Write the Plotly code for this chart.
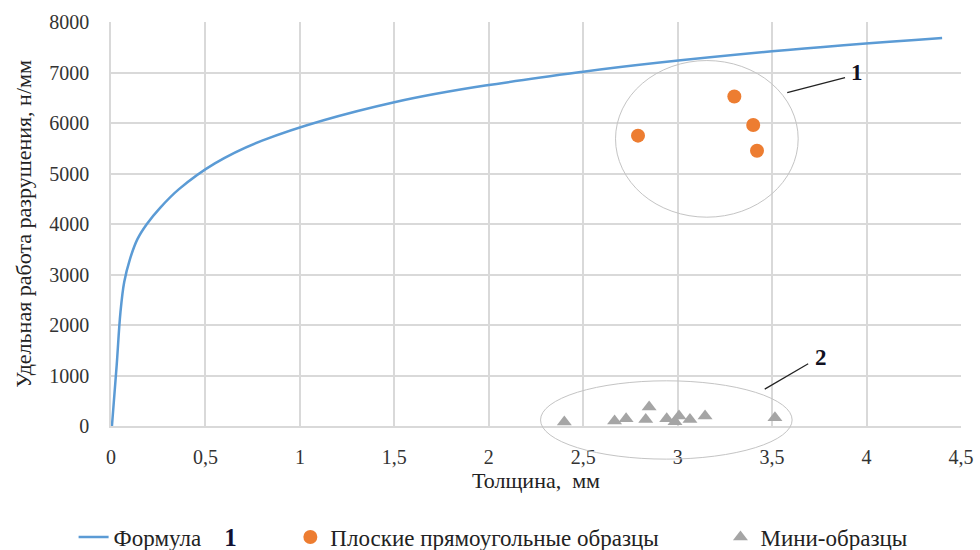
import plotly.graph_objects as go

# ---- data -------------------------------------------------------------
# calculated curve (Формула)
formula_x = [0.005, 0.03, 0.05, 0.07, 0.1, 0.14, 0.19, 0.26, 0.36, 0.55, 0.8, 1.5, 2.5, 3.5, 4.4]
formula_y = [0, 1200, 2250, 2850, 3300, 3700, 4000, 4320, 4690, 5200, 5650, 6410, 7015, 7420, 7685]

# flat rectangular specimens
flat_x = [2.79, 3.30, 3.40, 3.42]
flat_y = [5750, 6525, 5960, 5450]

# mini specimens
mini_x = [2.40, 2.666, 2.727, 2.849, 2.831, 2.942, 3.007, 2.986, 3.065, 3.145, 3.515]
mini_y = [80, 100, 145, 375, 130, 145, 200, 85, 130, 200, 165]

x_ticks = [0, 0.5, 1, 1.5, 2, 2.5, 3, 3.5, 4, 4.5]
x_ticktext = ["0", "0,5", "1", "1,5", "2", "2,5", "3", "3,5", "4", "4,5"]
y_ticks = [0, 1000, 2000, 3000, 4000, 5000, 6000, 7000, 8000]

X_RANGE = [0, 4.5]
Y_RANGE = [0, 8000]

# group outlines (x0, x1, y0, y1 in data units) and their numbered callouts
group_outlines = [(2.671, 3.638, 4135, 7237), (2.274, 3.606, -656, 895)]
leaders = [((3.58, 6600), (3.886, 6900)), ((3.461, 730), (3.691, 1233))]
callouts = [("1", 3.95, 7010), ("2", 3.76, 1350)]

FONT = "Liberation Serif"
GRID = "#d9d9d9"


def px(x):
    return (x - X_RANGE[0]) / (X_RANGE[1] - X_RANGE[0])


def py(y):
    return (y - Y_RANGE[0]) / (Y_RANGE[1] - Y_RANGE[0])


fig = go.Figure()

fig.add_trace(go.Scatter(
    x=formula_x, y=formula_y, mode="lines", line_shape="spline",
    line=dict(color="#5B9BD5", width=2.5),
    name='Формула&nbsp;&nbsp;&nbsp;&nbsp;<b><span style="font-size:25px;color:#111133">1</span></b>',
    legend="legend",
))
fig.add_trace(go.Scatter(
    x=flat_x, y=flat_y, mode="markers",
    marker=dict(color="#ED7D31", size=14, symbol="circle"),
    name="Плоские прямоугольные образцы", legend="legend2",
))
fig.add_trace(go.Scatter(
    x=mini_x, y=mini_y, mode="markers",
    marker=dict(color="#A5A5A5", size=13, symbol="triangle-up"),
    name="Мини-образцы", legend="legend3", cliponaxis=False,
))

shapes = []
for x0, x1, y0, y1 in group_outlines:
    shapes.append(dict(type="circle", xref="paper", yref="paper",
                       x0=px(x0), x1=px(x1), y0=py(y0), y1=py(y1),
                       line=dict(color="#c4c4c4", width=1)))
for (xa, ya), (xb, yb) in leaders:
    shapes.append(dict(type="line", xref="x", yref="y",
                       x0=xa, y0=ya, x1=xb, y1=yb,
                       line=dict(color="#222222", width=1.2)))

annotations = [dict(text=f"<b>{t}</b>", x=x, y=y, xref="x", yref="y",
                    showarrow=False, font=dict(family=FONT, size=23, color="#111122"))
               for t, x, y in callouts]

legend_common = dict(orientation="h", yanchor="middle", y=-0.275, xanchor="left",
                     bgcolor="rgba(0,0,0,0)",
                     font=dict(family=FONT, size=23, color="#222222"))

fig.update_layout(
    width=980, height=550,
    margin=dict(l=111, r=19, t=22, b=124, autoexpand=False),
    paper_bgcolor="white", plot_bgcolor="white",
    font=dict(family=FONT, color="#333333"),
    shapes=shapes, annotations=annotations,
    showlegend=True,
    legend=dict(x=-0.044, **legend_common),
    legend2=dict(x=0.211, **legend_common),
    legend3=dict(x=0.717, **legend_common),
    xaxis=dict(
        range=X_RANGE, tickvals=x_ticks, ticktext=x_ticktext,
        showgrid=True, gridcolor=GRID, gridwidth=1.5,
        showline=True, linecolor=GRID, linewidth=1.5, zeroline=False,
        ticks="", ticklabelstandoff=12,
        tickfont=dict(family=FONT, size=20, color="#333333"),
        title=dict(text="Толщина,  мм", standoff=4,
                   font=dict(family=FONT, size=22, color="#222222")),
    ),
    yaxis=dict(
        range=Y_RANGE, tickvals=y_ticks,
        showgrid=True, gridcolor=GRID, gridwidth=1.5,
        showline=True, linecolor=GRID, linewidth=1.5, zeroline=False,
        ticks="", ticklabelstandoff=16,
        tickfont=dict(family=FONT, size=20, color="#333333"),
        title=dict(text="Удельная работа разрушения, н/мм", standoff=12,
                   font=dict(family=FONT, size=22, color="#222222")),
    ),
)

fig.write_html("out.html")
